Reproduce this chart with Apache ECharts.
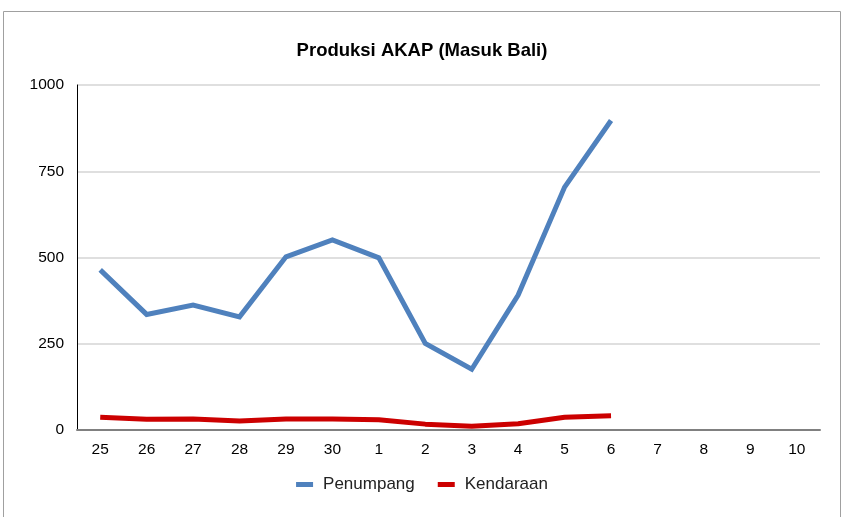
<!DOCTYPE html>
<html><head><meta charset="utf-8">
<script src="https://cdn.jsdelivr.net/npm/echarts@6/dist/echarts.min.js"></script>
<style>html,body{margin:0;padding:0;background:#fff}#c{width:844px;height:517px}</style>
</head><body><div id="c"></div>
<script>
const categories = ['25','26','27','28','29','30','1','2','3','4','5','6','7','8','9','10'];
const penumpang = [464, 335, 362, 328, 502, 551, 499, 251, 176, 391, 704, 897, null, null, null, null];
const kendaraan = [37, 31, 32, 26, 32, 32, 30, 17, 11, 18, 37, 41, null, null, null, null];
const yTicks = [0, 250, 500, 750, 1000];

const chart = echarts.init(document.getElementById('c'), null, {renderer: 'canvas'});
const font = '"Liberation Sans", Arial, sans-serif';
chart.setOption({
  animation: false,
  backgroundColor: '#fff',
  graphic: [{
    type: 'rect', shape: {x: 3.5, y: 11.5, width: 837, height: 510},
    style: {fill: 'none', stroke: '#a0a0a0', lineWidth: 1}, silent: true
  }],
  title: {
    text: 'Produksi AKAP (Masuk Bali)', left: 'center', top: 36,
    textStyle: {fontFamily: font, fontSize: 18.5, fontWeight: 'bold', color: '#000'}
  },
  legend: {
    bottom: 19, left: 'center', itemGap: 23, itemWidth: 17, itemHeight: 5,
    icon: 'rect',
    textStyle: {fontFamily: font, fontSize: 17, color: '#222', padding: [0, 0, 0, 5]},
    data: ['Penumpang', 'Kendaraan']
  },
  grid: {left: 77, right: 24, top: 85, bottom: 87, containLabel: false},
  xAxis: {
    type: 'category', data: categories, boundaryGap: true,
    axisLine: {lineStyle: {color: '#808080', width: 2}},
    axisTick: {show: false},
    axisLabel: {fontFamily: font, fontSize: 15.5, color: '#000', margin: 12}
  },
  yAxis: {
    type: 'value', min: yTicks[0], max: yTicks[yTicks.length - 1], interval: 250,
    axisLine: {show: true, lineStyle: {color: '#000', width: 1}},
    axisTick: {show: false},
    axisLabel: {fontFamily: font, fontSize: 15.5, color: '#000', margin: 13,
                formatter: v => String(v)},
    splitLine: {lineStyle: {color: '#d4d4d4', width: 1.5}}
  },
  series: [
    {name: 'Penumpang', type: 'line', data: penumpang, smooth: false, showSymbol: false,
     symbol: 'none', connectNulls: false,
     lineStyle: {color: '#4f81bd', width: 5, join: 'miter'}, itemStyle: {color: '#4f81bd'}},
    {name: 'Kendaraan', type: 'line', data: kendaraan, smooth: false, showSymbol: false,
     symbol: 'none',
     lineStyle: {color: '#cc0000', width: 5}, itemStyle: {color: '#cc0000'}}
  ]
});
</script></body></html>
